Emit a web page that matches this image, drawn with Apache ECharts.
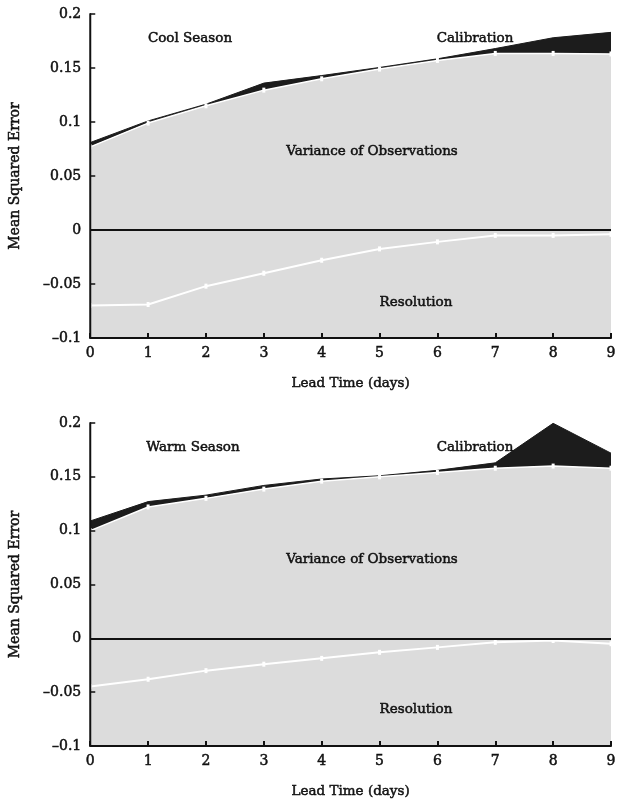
<!DOCTYPE html>
<html><head><meta charset="utf-8">
<script src="https://cdn.jsdelivr.net/npm/echarts@6/dist/echarts.min.js"></script>
<style>html,body{margin:0;padding:0;background:#fff}#c{width:619px;height:802px}</style>
</head><body><div id="c"></div>
<script>
const days = ['0','1','2','3','4','5','6','7','8','9'];
const yTicks = [-0.1,-0.05,0,0.05,0.1,0.15,0.2];
const yTickLabels = ['\u20130.1','\u20130.05','0','0.05','0.1','0.15','0.2'];

// Cool season
const coolVariance    = [0.077,0.099,0.115,0.1295,0.140,0.149,0.157,0.1635,0.1635,0.163];
const coolCalibration = [0.004,0.002,0.0015,0.0065,0.003,0.0015,0.0015,0.0045,0.0145,0.020];
const coolResolution  = [-0.070,-0.069,-0.052,-0.040,-0.028,-0.0175,-0.011,-0.005,-0.005,-0.004];
// Warm season
const warmVariance    = [0.100,0.122,0.130,0.1386,0.146,0.150,0.154,0.158,0.160,0.158];
const warmCalibration = [0.009,0.005,0.003,0.0034,0.002,0.001,0.002,0.005,0.0397,0.014];
const warmResolution  = [-0.0447,-0.038,-0.030,-0.024,-0.0186,-0.013,-0.0084,-0.0037,-0.002,-0.005];

const FONT = 'DejaVu Serif';
const GRAY = '#dcdcdc';
const DARK = '#1c1c1c';
const INK = '#111';

function yLabel(v){
  let best=0, d=1e9;
  yTicks.forEach((t,i)=>{ if(Math.abs(t-v)<d){d=Math.abs(t-v);best=i;} });
  return yTickLabels[best];
}
const heavy = {textBorderColor:INK, textBorderWidth:0.5};

const grids = [
  {left:89, right:8, top:14, height:324},
  {left:89, right:8, top:423, height:323}
];

function xAxisOf(i){
  return {
    type:'category', gridIndex:i, data:days, boundaryGap:false, z:10,
    name:'Lead Time (days)', nameLocation:'middle', nameGap:38,
    nameTextStyle:{fontFamily:FONT, fontSize:13.5, color:INK, ...heavy},
    axisLine:{show:true, onZero:false, lineStyle:{color:INK, width:2}},
    axisTick:{show:true, inside:true, length:5, interval:0, lineStyle:{color:INK, width:2}},
    axisLabel:{fontFamily:FONT, fontSize:14, color:INK, margin:8, interval:0, ...heavy},
    splitLine:{show:false}
  };
}
function yAxisOf(i){
  return {
    type:'value', gridIndex:i, min:-0.1, max:0.2, interval:0.05, z:10,
    name:'Mean Squared Error', nameLocation:'middle', nameGap:68, nameRotate:90,
    nameTextStyle:{fontFamily:FONT, fontSize:14, color:INK, ...heavy},
    axisLine:{show:true, onZero:false, lineStyle:{color:INK, width:2}},
    axisTick:{show:true, inside:true, length:5, lineStyle:{color:INK, width:1.5}},
    axisLabel:{fontFamily:FONT, fontSize:14, color:INK, margin:9, formatter:yLabel, ...heavy},
    splitLine:{show:false}
  };
}

function seriesOf(i, variance, calibration, resolution){
  return [
    {type:'line', xAxisIndex:i, yAxisIndex:i, stack:'s'+i, data:variance,
     symbol:'rect', symbolSize:[3,5], itemStyle:{color:'#fff'},
     lineStyle:{color:'#fff', width:1.5}, areaStyle:{color:GRAY, opacity:1},
     silent:true, z:2,
     markArea:{silent:true, itemStyle:{color:GRAY}, data:[[{xAxis:'0',yAxis:0},{xAxis:'9',yAxis:-0.1}]]}
    },
    {type:'line', xAxisIndex:i, yAxisIndex:i, stack:'s'+i, data:calibration,
     symbol:'none', lineStyle:{color:DARK, width:1}, areaStyle:{color:DARK, opacity:1},
     silent:true, z:1,
     markLine:{silent:true, symbol:'none', label:{show:false},
       lineStyle:{color:INK, width:2, type:'solid'}, data:[{yAxis:0}]}
    },
    {type:'line', xAxisIndex:i, yAxisIndex:i, data:resolution,
     symbol:'rect', symbolSize:[3,5], itemStyle:{color:'#fff'},
     lineStyle:{color:'#fff', width:2}, silent:true, z:3}
  ];
}

const chart = echarts.init(document.getElementById('c'), null, {renderer:'canvas'});
const ann = [
  [190,38,'Cool Season'],[475,38,'Calibration'],[372,151,'Variance of Observations'],[416,302,'Resolution'],
  [193,447,'Warm Season'],[475,447,'Calibration'],[372,559,'Variance of Observations'],[416,709,'Resolution']
];
chart.setOption({
  animation:false,
  backgroundColor:'#fff',
  grid:grids,
  xAxis:[xAxisOf(0), xAxisOf(1)],
  yAxis:[yAxisOf(0), yAxisOf(1)],
  series:[...seriesOf(0, coolVariance, coolCalibration, coolResolution),
          ...seriesOf(1, warmVariance, warmCalibration, warmResolution)],
  graphic: ann.map(a=>({type:'text', x:a[0], y:a[1], z:100,
    style:{text:a[2], font:'13.5px "DejaVu Serif"', fill:INK, stroke:INK, lineWidth:0.5,
      align:'center', verticalAlign:'middle'}}))
});
</script></body></html>
